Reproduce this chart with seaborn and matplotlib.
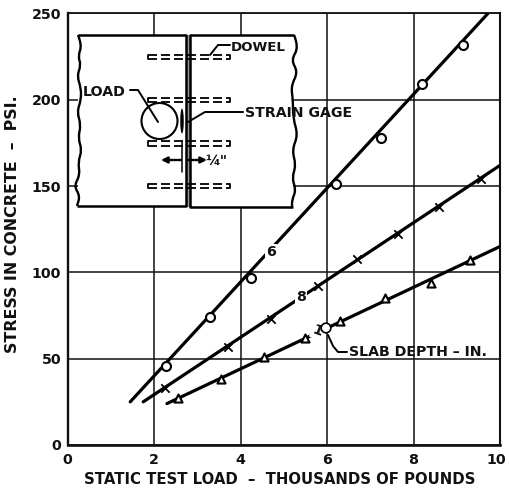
import numpy as np
import pandas as pd
import seaborn as sns
import matplotlib
matplotlib.use("Agg")
import matplotlib.pyplot as plt
from matplotlib.path import Path
from matplotlib.patches import PathPatch, Circle, Ellipse, Rectangle
from matplotlib.transforms import ScaledTranslation

# ---- data ----
load_6 = [2.27, 3.3, 4.25, 6.2, 7.25, 8.2, 9.15]
stress_6 = [46, 74, 97, 151, 178, 209, 232]
load_8 = [2.25, 3.7, 4.7, 5.8, 6.7, 7.65, 8.6, 9.55]
stress_8 = [33, 57, 73, 92, 108, 122, 138, 154]
load_10 = [2.55, 3.55, 4.55, 5.5, 6.3, 7.35, 8.4, 9.3]
stress_10 = [27, 38, 51, 62, 72, 85, 94, 107]
fit_x_6 = [1.45, 9.72]
fit_y_6 = [25, 250]
fit_x_8 = [1.75, 10]
fit_y_8 = [25, 162]
fit_x_10 = [2.3, 10]
fit_y_10 = [24, 115]
x_ticks = [0, 2, 4, 6, 8, 10]
y_ticks = [0, 50, 100, 150, 200, 250]
x_title = "STATIC TEST LOAD  –  THOUSANDS OF POUNDS"
y_title = "STRESS IN CONCRETE  –  PSI."

sns.set_style("white")
plt.rcParams["font.family"] = ["DejaVu Sans"]
plt.rcParams["font.weight"] = "bold"
FS = 10.2
W, H = 509, 491

fig = plt.figure(figsize=(W / 100, H / 100), dpi=100, facecolor="white")
ax = fig.add_axes([67.5 / W, 1 - 445 / H, 432.5 / W, 431.5 / H])

series = [
    (fit_x_6, fit_y_6, load_6, stress_6, "o", 42),
    (fit_x_8, fit_y_8, load_8, stress_8, "x", 36),
    (fit_x_10, fit_y_10, load_10, stress_10, "^", 34),
]
for fx, fy, px, py, mk, sz in series:
    sns.lineplot(x=fx, y=fy, ax=ax, color="black", lw=2.3, zorder=3,
                 estimator=None, sort=False)
for fx, fy, px, py, mk, sz in series:
    df = pd.DataFrame({"load": px, "stress": py})
    if mk == "x":
        sns.scatterplot(data=df, x="load", y="stress", ax=ax, marker="x", s=sz,
                        color="black", linewidth=1.3, zorder=4)
    else:
        sns.scatterplot(data=df, x="load", y="stress", ax=ax, marker=mk, s=sz,
                        facecolor="white", edgecolor="black", linewidth=1.5, zorder=4)

ax.set_xlim(0, 10)
ax.set_ylim(0, 250)
ax.set_xticks(x_ticks)
ax.set_yticks(y_ticks)
ax.set_xticklabels(["0", "2", "4", "6", "8", "10"])
ax.set_xlabel("")
ax.set_ylabel("")
ax.grid(True, color="#111111", lw=1.1)
ax.set_axisbelow(True)
ax.tick_params(length=0, labelsize=10.3, colors="#111111")
ax.tick_params(axis="x", pad=6)
ax.tick_params(axis="y", pad=4.5)
last = ax.get_xticklabels()[-1]
last.set_transform(last.get_transform() + ScaledTranslation(-3.5 / 100, 0, fig.dpi_scale_trans))
for side, lw in dict(left=1.7, bottom=1.9, top=1.3, right=1.5).items():
    ax.spines[side].set_visible(True)
    ax.spines[side].set_linewidth(lw)
    ax.spines[side].set_color("#111111")

# overlay in pixel space for titles, curve labels and the joint sketch
ov = fig.add_axes([0, 0, 1, 1], facecolor="none")
ov.set_xlim(0, W)
ov.set_ylim(H, 0)
ov.axis("off")


def wavy(points):
    verts = [points[0]]
    codes = [Path.MOVETO]
    for a, b in zip(points[1:-1], points[2:]):
        verts += [a, ((a[0] + b[0]) / 2, (a[1] + b[1]) / 2)]
        codes += [Path.CURVE3, Path.CURVE3]
    verts.append(points[-1])
    codes.append(Path.LINETO)
    return Path(verts, codes)


left_edge = [(78, 35), (82, 45), (78, 56), (81, 65), (77, 76), (81, 88), (81, 100),
             (77, 112), (81, 125), (78, 138), (82, 150), (78, 162), (80, 175),
             (74, 186), (80, 196), (77, 206)]
right_edge = [(294, 35), (299, 47), (291, 60), (298, 72), (291, 86), (293, 100),
              (293, 118), (298, 135), (292, 150), (296, 165), (292, 178), (296, 190),
              (292, 200), (292, 207)]

ov.add_patch(Rectangle((78, 35), 108, 171, fc="white", ec="none", zorder=5))
ov.add_patch(Rectangle((190, 35), 103, 172, fc="white", ec="none", zorder=5))
ov.add_patch(Rectangle((186, 35), 4, 172, fc="#999999", ec="none", zorder=5))
lk = dict(color="black", zorder=7, solid_capstyle="butt")
ov.plot([78, 186, 186, 77], [35, 35, 206, 206], lw=1.8, **lk)
ov.plot([294, 190, 190, 293], [35, 35, 207, 207], lw=1.8, **lk)
ov.add_patch(PathPatch(wavy(left_edge), fc="none", ec="black", lw=1.7, zorder=7))
ov.add_patch(PathPatch(wavy(right_edge), fc="none", ec="black", lw=1.7, zorder=7))

for yc in (57, 100, 143.5, 186):
    for dy in (-2.2, 2.2):
        ov.plot([148, 230], [yc + dy, yc + dy], color="black", lw=1.3,
                dashes=(5, 2.2), zorder=7)
    ov.plot([148, 148], [yc - 2.2, yc + 2.2], color="black", lw=1.3, zorder=7)
    ov.plot([230, 230], [yc - 2.2, yc + 2.2], color="black", lw=1.3, zorder=7)

ov.add_patch(Circle((159.5, 121), 18, fc="white", ec="black", lw=1.5, zorder=8))
ov.add_patch(Ellipse((182, 121), 3.5, 25, fc="black", ec="none", zorder=8))
ov.plot([182, 182], [141, 172], color="black", lw=1.1, zorder=8)
for x0, x1 in ((181, 161), (188, 207)):
    ov.annotate("", xy=(x1, 160), xytext=(x0, 160), zorder=8,
                arrowprops=dict(arrowstyle="-|>", color="black", lw=1.7,
                                shrinkA=0, shrinkB=0, mutation_scale=9))
ov.plot([130, 138, 158, 158], [90, 90, 122, 122], color="black", lw=1.4, zorder=9)
ov.plot([230, 218, 210], [45, 45, 55], color="black", lw=1.4, zorder=9)
ov.plot([243, 205, 188], [112, 112, 122], color="black", lw=1.4, zorder=9)
ov.plot([328, 333, 338, 347], [335, 346, 352, 352], color="black", lw=1.4, zorder=9)

t = dict(fontsize=FS, fontweight="bold", color="#111111", zorder=10, va="center")
ov.text(231, 47, "DOWEL", ha="left", **{**t, "fontsize": 9.6})
ov.text(83, 92, "LOAD", ha="left", **t)
ov.text(245, 113, "STRAIN GAGE", ha="left", **t)
ov.text(349, 352, "SLAB DEPTH – IN.", ha="left", **t)
ov.text(216, 161, "¼\"", ha="center", **t)
box = dict(fc="white", ec="none", pad=0.6)
ov.text(271, 252, "6", ha="center", bbox=box, **t)
ov.text(301, 297, "8", ha="center", bbox=box, **t)
ov.text(317, 331, "1", ha="center", rotation=-20, bbox=box, **t)
ov.add_patch(Circle((326, 328), 4.8, fc="white", ec="black", lw=1.2, zorder=11))
ov.text(280, 480, x_title, ha="center", **{**t, "fontsize": 10.7})
ov.text(13, 224, y_title, ha="center", rotation=90, **{**t, "fontsize": 11.4})

fig.savefig("out.png", dpi=100)
